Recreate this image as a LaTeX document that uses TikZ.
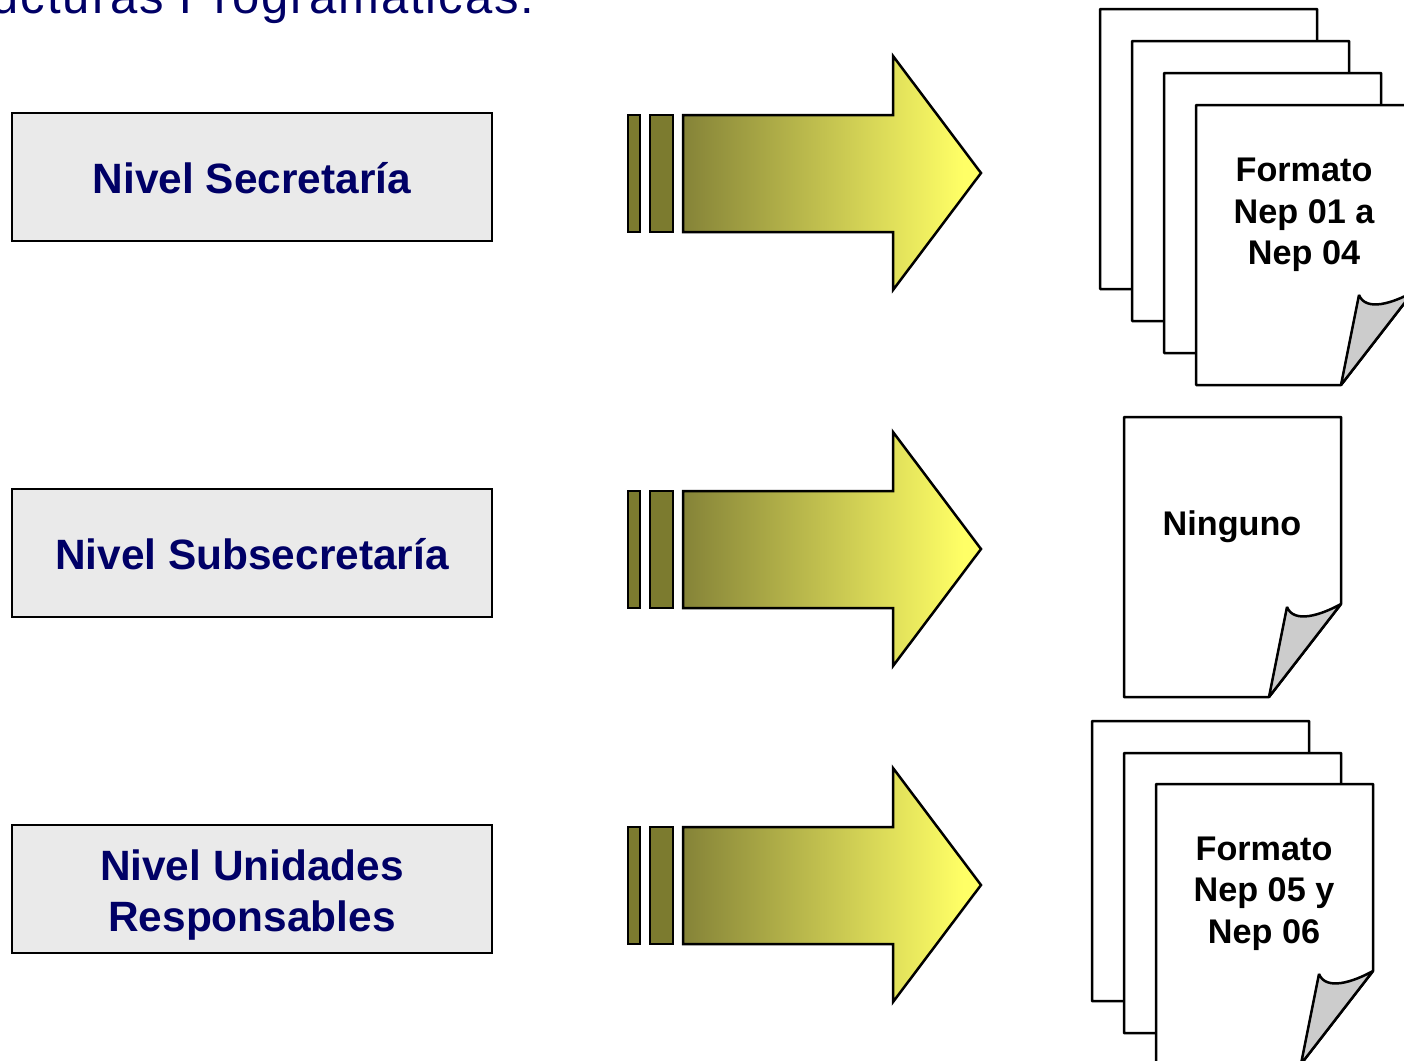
\documentclass[tikz,border=0pt]{standalone}
\usepackage{fontspec}
\setmainfont{Liberation Sans}
\usetikzlibrary{positioning}
\definecolor{navytext}{HTML}{000066}
\definecolor{levelgray}{HTML}{EAEAEA}
\definecolor{olivebar}{HTML}{7C7B2F}
\definecolor{olivestart}{HTML}{858338}
\definecolor{arrowyellow}{HTML}{FFFF66}
\definecolor{foldgray}{HTML}{CCCCCC}
\pgfdeclarehorizontalshading{arrowshade}{100bp}{color(0bp)=(olivestart); color(25bp)=(olivestart); color(72bp)=(arrowyellow); color(100bp)=(arrowyellow)}
\tikzset{
  outline/.style={draw=black, line width=1.25pt, line join=miter},
  levelbox/.style={outline, fill=levelgray, minimum width=240pt, minimum height=64pt, anchor=north west,
    align=center, inner sep=0pt, outer sep=0pt},
  boxlabel/.style={inner sep=0pt, align=center, text=navytext, font=\fontsize{21.2}{25.5}\selectfont\bfseries},
  doctext/.style={align=center, inner sep=0pt, text=black, font=\fontsize{17.1}{20.8}\selectfont\bfseries},
  titletext/.style={anchor=base east, inner sep=0pt, text=navytext, font=\fontsize{24.5}{28}\selectfont\addfontfeature{LetterSpace=4}},
  barstyle/.style={outline, fill=olivebar},
  arrowstyle/.style={outline, shading=arrowshade},
  sheetstyle/.style={outline, line join=bevel},
}
% one sheet with its folded corner, (#1) is the top left corner
\newcommand{\docsheet}[1]{
  \begin{scope}[shift={(#1)}]
    \draw[sheetstyle, fill=white] (0,0) -- (217,0) -- (217,187) -- (145,280) -- (0,280) -- cycle;
    \draw[sheetstyle, fill=foldgray] (217,187) .. controls (197,198) and (170,207) .. (163,190) -- (145,280) -- cycle;
  \end{scope}
}
% bars and arrow of one row, (#1) is the top left corner of the first bar
\newcommand{\levelarrow}[1]{
  \begin{scope}[shift={(#1)}]
    \draw[barstyle] (0,0) rectangle (12,117);
    \draw[barstyle] (22,0) rectangle (45,117);
    \draw[arrowstyle] (55,0) -- (265,0) -- (265,-59) -- (353,58) -- (265,175) -- (265,117) -- (55,117) -- cycle;
  \end{scope}
}
\begin{document}
\begin{tikzpicture}[x=0.5pt, y=-0.5pt]
\useasboundingbox (0,0) rectangle (1404,1061);
%
\node[titletext] (title) at (535,13) {Estructuras Programáticas:};
%
\node[levelbox] (secretaria) at (12,113) {};
\node[levelbox] (subsecretaria) at (12,489) {};
\node[levelbox] (unidades) at (12,825) {};
\node[boxlabel] at ([yshift=-0.5pt]secretaria.center) {Nivel Secretaría};
\node[boxlabel] at ([yshift=-0.5pt]subsecretaria.center) {Nivel Subsecretaría};
\node[boxlabel] at ([yshift=-3pt]unidades.center) {Nivel Unidades\\Responsables};
%
\foreach \y in {115,491,827} {
  \levelarrow{628,\y}
}
%
\foreach \x/\y in {1100/9,1132/41,1164/73,1196/105,1124/417,1092/721,1124/753,1156/784} {
  \docsheet{\x,\y}
}
%
\node[doctext] (nepa) at (1304,215) {Formato\\Nep 01 a\\Nep 04};
\node[doctext] (ninguno) at (1232,527) {Ninguno};
\node[doctext] (nepb) at (1264,893.5) {Formato\\Nep 05 y\\Nep 06};
%
\end{tikzpicture}
\end{document}
